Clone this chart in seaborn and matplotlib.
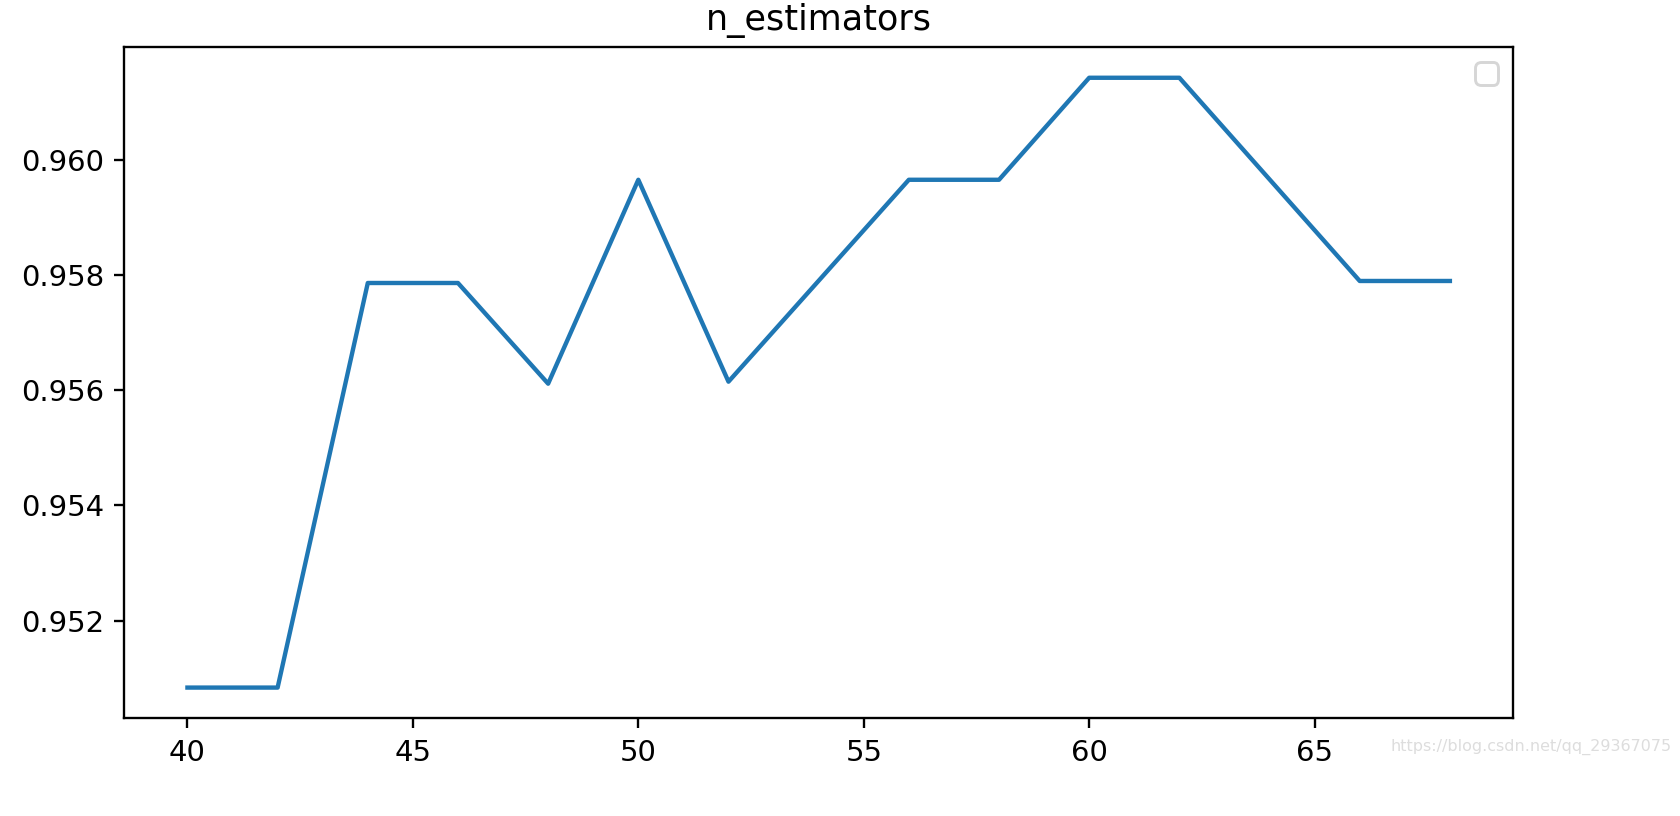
import matplotlib
matplotlib.use("Agg")
import matplotlib.pyplot as plt
import seaborn as sns
import pandas as pd

n_estimators = [40, 42, 44, 46, 48, 50, 52, 54, 56, 58, 60, 62, 64, 66, 68]
scores = [0.950837, 0.950837, 0.957861, 0.957861, 0.956113, 0.959653, 0.956148,
          0.957900, 0.959653, 0.959653, 0.961424, 0.961424, 0.959660, 0.957896, 0.957896]

df = pd.DataFrame({"x": n_estimators, "y": scores})
fig = plt.figure(figsize=(8, 3.886), dpi=210)
ax = fig.add_axes([0.074, 0.12, 0.8266, 0.822])
sns.lineplot(data=df, x="x", y="y", ax=ax, color="#1f77b4", linewidth=1.5)
ax.set_xlabel("")
ax.set_ylabel("")
ax.set_title("n_estimators", fontsize=12)
ax.set_yticks([0.952, 0.954, 0.956, 0.958, 0.960])
ax.set_yticklabels(["0.952", "0.954", "0.956", "0.958", "0.960"])
ax.set_xticks([40, 45, 50, 55, 60, 65])
ax.legend(handles=[], loc="upper right")
fig.text(0.995, 0.085, "https://blog.csdn.net/qq_29367075", ha="right", va="center",
         fontsize=5.5, color="#dddddd")
fig.savefig("out.png", dpi=210)
